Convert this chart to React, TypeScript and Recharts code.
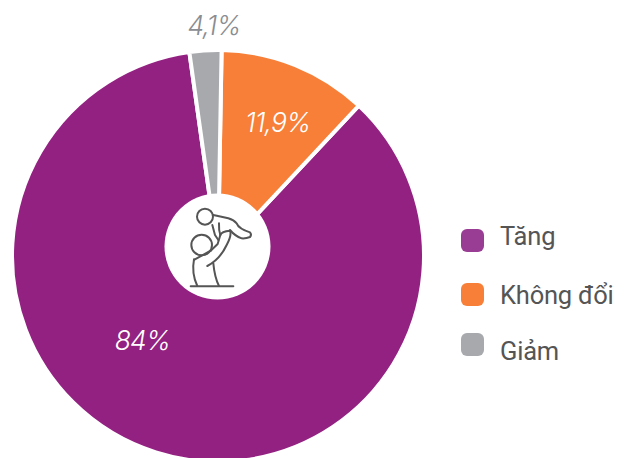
import React from "react";
import { PieChart, Pie, Cell, Legend } from "recharts";

const categories = ["Tăng", "Không đổi", "Giảm"];
// Slice sizes as drawn in the picture; the printed labels are kept separately.
const sliceValues = [85.8, 11.7, 2.5];
const printedLabels = ["84%", "11,9%", "4,1%"];
const sliceColors = ["#932181", "#F77F38", "#A7A9AC"];
const legendColors = ["#993C94", "#F77F38", "#A7A9AC"];
const labelColors = ["#FFFFFF", "#FFFFFF", "#8A8D91"];

const data = categories.map((name, i) => ({ name, value: sliceValues[i], text: printedLabels[i] }));

const CX = 218;
const CY = 256;
const labelPolar = [
  { r: 113, a: 228 },
  { r: 147, a: 66 },
  { r: 231, a: 91 },
];

function renderLabel(p: any) {
  const { index, cx, cy } = p;
  const { r, a } = labelPolar[index];
  const rad = (a * Math.PI) / 180;
  return (
    <text
      x={cx + r * Math.cos(rad)}
      y={cy - r * Math.sin(rad)}
      fill={labelColors[index]}
      textAnchor="middle"
      dominantBaseline="central"
      fontFamily="Inter, sans-serif"
      fontStyle="italic"
      fontWeight={300}
      fontSize={26.5}
      letterSpacing={-0.8}
    >
      {printedLabels[index]}
    </text>
  );
}

const swatchTops = [4, 58, 108];
const textBaselines = [20, 79, 135];

function LegendBox() {
  return (
    <svg width={170} height={150} style={{ display: "block", overflow: "visible" }}>
      {categories.map((c, i) => (
        <g key={c}>
          <rect x={0} y={swatchTops[i]} width={23} height={23} rx={6} fill={legendColors[i]} />
          <text
            x={39}
            y={textBaselines[i]}
            fontFamily="Roboto, sans-serif"
            fontWeight={400}
            fontSize={25.5}
            letterSpacing={-0.2}
            fill="#555555"
          >
            {c}
          </text>
        </g>
      ))}
    </svg>
  );
}

function Icon() {
  return (
    <svg
      width={628}
      height={458}
      style={{ position: "absolute", left: 0, top: 0, pointerEvents: "none" }}
    >
      <circle cx={217.5} cy={246.5} r={53} fill="#FFFFFF" />
      <g
        transform="translate(150 190) scale(0.3333)"
        fill="none"
        stroke="#555555"
        strokeWidth={6}
        strokeLinecap="round"
        strokeLinejoin="round"
      >
        <circle cx={165} cy={80} r={24} />
        <circle cx={155} cy={165} r={31} />
        <path d="M190 75 L235 85 Q252 90 260 100 Q266 116 300 127 Q306 134 300 141 Q288 146 275 145 Q255 138 240 120" />
        <path d="M187 105 L195 135 L205 150" />
        <path d="M207 100 Q206 120 211 135" />
        <path d="M211 135 Q215 124 240 122 Q246 135 230 165 Q210 208 172 228" />
        <path d="M211 135 L203 162 L182 182" />
        <path d="M132 210 L182 182" />
        <path d="M132 208 Q124 250 142 288" />
        <path d="M190 220 Q194 262 207 288" />
        <path d="M122 289 L250 289" />
      </g>
    </svg>
  );
}

export default function App() {
  return (
    <div style={{ position: "absolute", left: 0, top: 0, width: 628, height: 458, overflow: "hidden", background: "#fff" }}>
      <PieChart width={628} height={458} margin={{ top: 0, right: 0, bottom: 0, left: 0 }}>
        <Pie
          data={data}
          dataKey="value"
          nameKey="name"
          cx={CX}
          cy={CY}
          innerRadius={0}
          outerRadius={206}
          startAngle={98}
          endAngle={458}
          stroke="#FFFFFF"
          strokeWidth={4}
          isAnimationActive={false}
          label={renderLabel}
          labelLine={false}
        >
          {categories.map((c, i) => (
            <Cell key={c} fill={sliceColors[i]} />
          ))}
        </Pie>
        <Legend
          content={() => <LegendBox />}
          wrapperStyle={{ position: "absolute", left: 461, top: 225, width: 170, height: 150 }}
        />
      </PieChart>
      <Icon />
    </div>
  );
}
